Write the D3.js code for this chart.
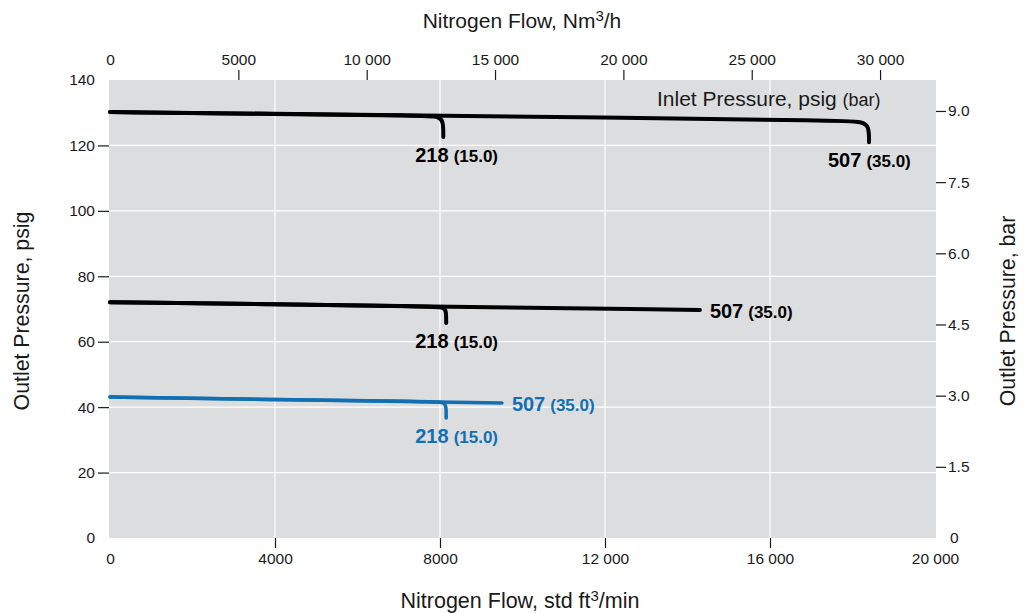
<!DOCTYPE html>
<html>
<head>
<meta charset="utf-8">
<script src="https://cdn.jsdelivr.net/npm/d3@7"></script>
<style>
  body { margin: 0; background: #fff; }
  text { font-family: "Liberation Sans", Arial, Helvetica, sans-serif; fill: #1a1a1a; }
</style>
</head>
<body>
<svg id="chart" width="1028" height="613"></svg>
<script>
// ---- data ----
const flowTicks = [0, 4000, 8000, 12000, 16000, 20000];           // std ft3/min
const nm3Ticks = [0, 5000, 10000, 15000, 20000, 25000, 30000];     // Nm3/h
const psigTicks = [0, 20, 40, 60, 80, 100, 120, 140];
const barTicks = [0, 1.5, 3.0, 4.5, 6.0, 7.5, 9.0];
const scfmToNm3h = 1.607;
const psiPerBar = 14.5038;

// outlet set 130 psig
const hi507Flow = [0, 6000, 12000, 17700, 18250, 18400, 18400];
const hi507Psig = [130.2, 129.4, 128.5, 127.6, 127.3, 125.8, 121.0];
const hi218Flow = [0, 4000, 7650, 7980, 8080, 8080];
const hi218Psig = [130.2, 129.6, 129.1, 128.8, 127.4, 122.6];
// outlet set 72 psig
const mid507Flow = [0, 7000, 14300];
const mid507Psig = [72.1, 70.9, 69.7];
const mid218Flow = [0, 4000, 7850, 8100, 8150, 8150];
const mid218Psig = [72.1, 71.4, 70.8, 70.5, 69.3, 65.7];
// outlet set 43 psig
const low507Flow = [0, 4800, 9500];
const low507Psig = [43.1, 42.2, 41.3];
const low218Flow = [0, 4000, 7850, 8100, 8150, 8150];
const low218Psig = [43.1, 42.3, 41.7, 41.5, 40.3, 36.7];

const curves = [
  { flow: hi507Flow, psig: hi507Psig, color: "#000", big: "507", small: "(35.0)", place: "below" },
  { flow: hi218Flow, psig: hi218Psig, color: "#000", big: "218", small: "(15.0)", place: "below" },
  { flow: mid507Flow, psig: mid507Psig, color: "#000", big: "507", small: "(35.0)", place: "right" },
  { flow: mid218Flow, psig: mid218Psig, color: "#000", big: "218", small: "(15.0)", place: "below" },
  { flow: low507Flow, psig: low507Psig, color: "#1170b3", big: "507", small: "(35.0)", place: "right" },
  { flow: low218Flow, psig: low218Psig, color: "#1170b3", big: "218", small: "(15.0)", place: "below" }
];

// ---- layout ----
const svg = d3.select("#chart");
const X0 = 110, X1 = 935, Y0 = 80, Y1 = 538;
const x = d3.scaleLinear().domain([0, 20000]).range([X0, X1]);
const xTop = d3.scaleLinear().domain([0, 20000 * scfmToNm3h]).range([X0, X1]);
const y = d3.scaleLinear().domain([0, 140]).range([Y1, Y0]);
const yBar = d3.scaleLinear().domain([0, 140 / psiPerBar]).range([Y1, Y0]);

svg.append("rect").attr("x", X0 - 1).attr("y", Y0).attr("width", X1 - X0 + 2).attr("height", Y1 - Y0)
  .attr("fill", "#dcdddf");

// grid
svg.append("g").selectAll("line").data(flowTicks.filter(d => d > 0 && d < 20000)).join("line")
  .attr("x1", d => x(d)).attr("x2", d => x(d)).attr("y1", Y0).attr("y2", Y1)
  .attr("stroke", "#fff").attr("stroke-width", 1.2);
svg.append("g").selectAll("line").data(psigTicks.filter(d => d > 0 && d < 140)).join("line")
  .attr("x1", X0 - 1).attr("x2", X1 + 1).attr("y1", d => y(d)).attr("y2", d => y(d))
  .attr("stroke", "#fff").attr("stroke-width", 1.2);

function styleAxis(g) {
  g.select(".domain").remove();
  g.selectAll(".tick line").attr("stroke", "#1a1a1a").attr("stroke-width", 1.2);
  g.selectAll(".tick text").attr("font-size", 15.5).attr("fill", "#1a1a1a")
    .attr("font-family", "Liberation Sans, Arial, sans-serif");
}
const fmtSp = d => d >= 10000 ? d3.format(",")(d).replace(/,/g, " ") : String(d);

// bottom axis
const gb = svg.append("g").attr("transform", `translate(0,${Y1})`)
  .call(d3.axisBottom(x).tickValues(flowTicks).tickSize(10).tickPadding(5).tickFormat(fmtSp));
styleAxis(gb);
gb.selectAll(".tick line").filter(d => d === 0 || d === 20000).remove();

// top axis
const gt = svg.append("g").attr("transform", `translate(0,${Y0})`)
  .call(d3.axisTop(xTop).tickValues(nm3Ticks).tickSize(10).tickPadding(5).tickFormat(fmtSp));
styleAxis(gt);
gt.selectAll(".tick line").filter(d => d === 0).remove();

// left axis
const gl = svg.append("g").attr("transform", `translate(${X0 - 1},0)`)
  .call(d3.axisLeft(y).tickValues(psigTicks).tickSize(11).tickPadding(3));
styleAxis(gl);
gl.selectAll(".tick line").filter(d => d === 0 || d === 140).remove();
gl.selectAll(".tick text").filter(d => d === 0 || d === 140).attr("x", -14);

// right axis
const gr = svg.append("g").attr("transform", `translate(${X1 + 1},0)`)
  .call(d3.axisRight(yBar).tickValues(barTicks).tickSize(10).tickPadding(2)
    .tickFormat(d => d === 0 ? "0" : d3.format(".1f")(d)));
styleAxis(gr);
gr.selectAll(".tick line").filter(d => d === 0).remove();
gr.selectAll(".tick text").filter(d => d === 0).attr("x", 14);

// curves
const line = d3.line().curve(d3.curveBasis);
curves.forEach(c => {
  const pts = c.flow.map((f, i) => [x(f), y(c.psig[i])]);
  svg.append("path").attr("d", line(pts)).attr("fill", "none")
    .attr("stroke", c.color).attr("stroke-width", c.color === "#000" ? 4 : 3.5)
    .attr("stroke-linecap", "round").attr("stroke-linejoin", "round");
  const end = pts[pts.length - 1];
  let tx, ty;
  if (c.place === "below") { tx = c.big === "507" ? end[0] - 41 : x(7400); ty = end[1] + 25; }
  else { tx = end[0] + 10; ty = end[1] + 8; }
  const t = svg.append("text").attr("x", tx).attr("y", ty).style("fill", c.color).attr("font-weight", "bold");
  t.append("tspan").attr("font-size", 20).text(c.big);
  t.append("tspan").attr("font-size", 17).attr("dx", 5).text(c.small);
});

// inlet pressure label
const il = svg.append("text").attr("x", 657).attr("y", 106);
il.append("tspan").attr("font-size", 21).text("Inlet Pressure, psig ");
il.append("tspan").attr("font-size", 18).text("(bar)");

// axis titles
const tt = svg.append("text").attr("x", 522).attr("y", 28).attr("text-anchor", "middle").attr("font-size", 21);
tt.append("tspan").text("Nitrogen Flow, Nm");
tt.append("tspan").attr("font-size", 15).attr("dy", -7).text("3");
tt.append("tspan").attr("dy", 7).text("/h");

const bt = svg.append("text").attr("x", 520).attr("y", 608).attr("text-anchor", "middle").attr("font-size", 21.5);
bt.append("tspan").text("Nitrogen Flow, std ft");
bt.append("tspan").attr("font-size", 15).attr("dy", -7).text("3");
bt.append("tspan").attr("dy", 7).text("/min");

svg.append("text").attr("transform", "translate(29,311) rotate(-90)").attr("text-anchor", "middle")
  .attr("font-size", 21.3).text("Outlet Pressure, psig");
svg.append("text").attr("transform", "translate(1015,311) rotate(-90)").attr("text-anchor", "middle")
  .attr("font-size", 21.3).text("Outlet Pressure, bar");
</script>
</body>
</html>
